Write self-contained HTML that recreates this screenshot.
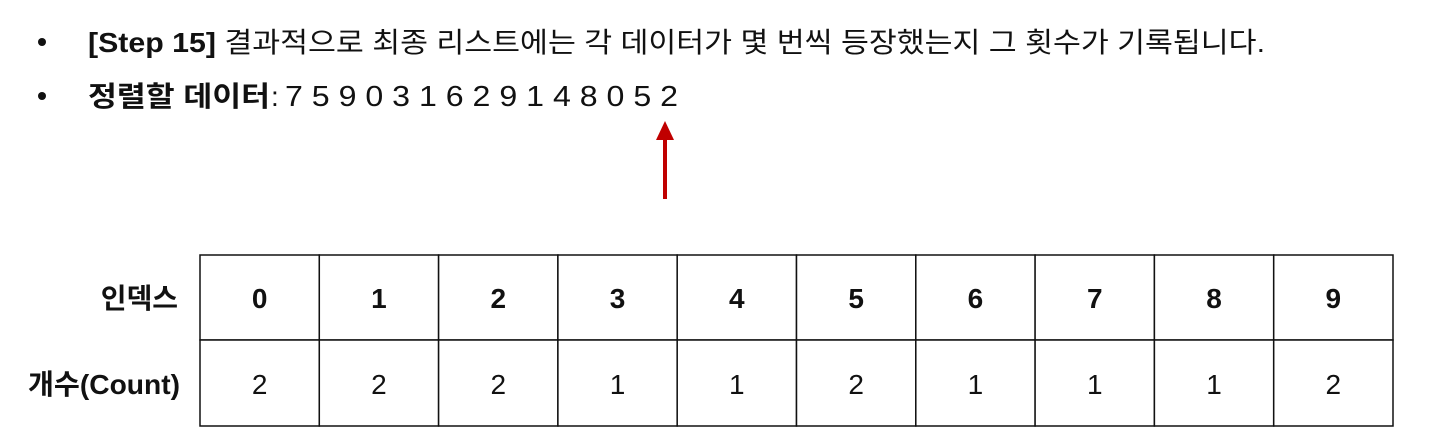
<!DOCTYPE html>
<html><head><meta charset="utf-8"><style>
html,body{margin:0;padding:0;background:#fff;width:1443px;height:448px;overflow:hidden}
text{font-family:"Liberation Sans","Noto Sans CJK KR",sans-serif;fill:#111}
</style></head><body>
<svg id="s" width="1443" height="448" viewBox="0 0 1443 448">
<circle cx="42" cy="42" r="4" fill="#111"/>
<text x="88" y="52" font-size="28" textLength="1177" lengthAdjust="spacingAndGlyphs"><tspan font-weight="bold">[Step 15]</tspan> 결과적으로 최종 리스트에는 각 데이터가 몇 번씩 등장했는지 그 횟수가 기록됩니다.</text>
<circle cx="42" cy="96" r="4" fill="#111"/>
<text x="88" y="106" font-size="28" font-weight="bold" textLength="182" lengthAdjust="spacingAndGlyphs">정렬할 데이터</text>
<text x="271" y="106" font-size="28">:</text>
<text x="285" y="106" font-size="29" textLength="393" lengthAdjust="spacingAndGlyphs">7 5 9 0 3 1 6 2 9 1 4 8 0 5 2</text>
<line x1="665" y1="138" x2="665" y2="199" stroke="#c00000" stroke-width="4"/>
<polygon points="665,121 656,140 674,140" fill="#c00000"/>
<g id="tbl"></g>
<text x="178" y="308" font-size="28" font-weight="bold" text-anchor="end">인덱스</text>
<text x="180" y="394" font-size="28" font-weight="bold" text-anchor="end" textLength="152" lengthAdjust="spacingAndGlyphs">개수(Count)</text>
</svg>
<script>
const indices=[0,1,2,3,4,5,6,7,8,9];
const counts=[2,2,2,1,1,2,1,1,1,2];
const NS="http://www.w3.org/2000/svg";
const g=document.getElementById('tbl');
const X0=200,X1=1393,Y0=255,Y1=340,Y2=426;
const cw=(X1-X0)/indices.length;
function mk(t,a){const e=document.createElementNS(NS,t);for(const k in a)e.setAttribute(k,a[k]);g.appendChild(e);return e;}
indices.forEach((v,i)=>{
  const x=X0+i*cw;
  const r1=mk('rect',{x:x,y:Y0,width:cw,height:Y1-Y0,fill:'#fff',stroke:'#111','stroke-width':1.5});
  
  
  const r2=mk('rect',{x:x,y:Y1,width:cw,height:Y2-Y1,fill:'#fff',stroke:'#111','stroke-width':1.5});
  
  
  const t1=mk('text',{x:x+cw/2,y:308,'font-size':28,'font-weight':'bold','text-anchor':'middle'});
  t1.textContent=v;
  
  
  const t2=mk('text',{x:x+cw/2,y:394,'font-size':28,'text-anchor':'middle'});
  t2.textContent=counts[i];
  
  
});
</script>
</body></html>
